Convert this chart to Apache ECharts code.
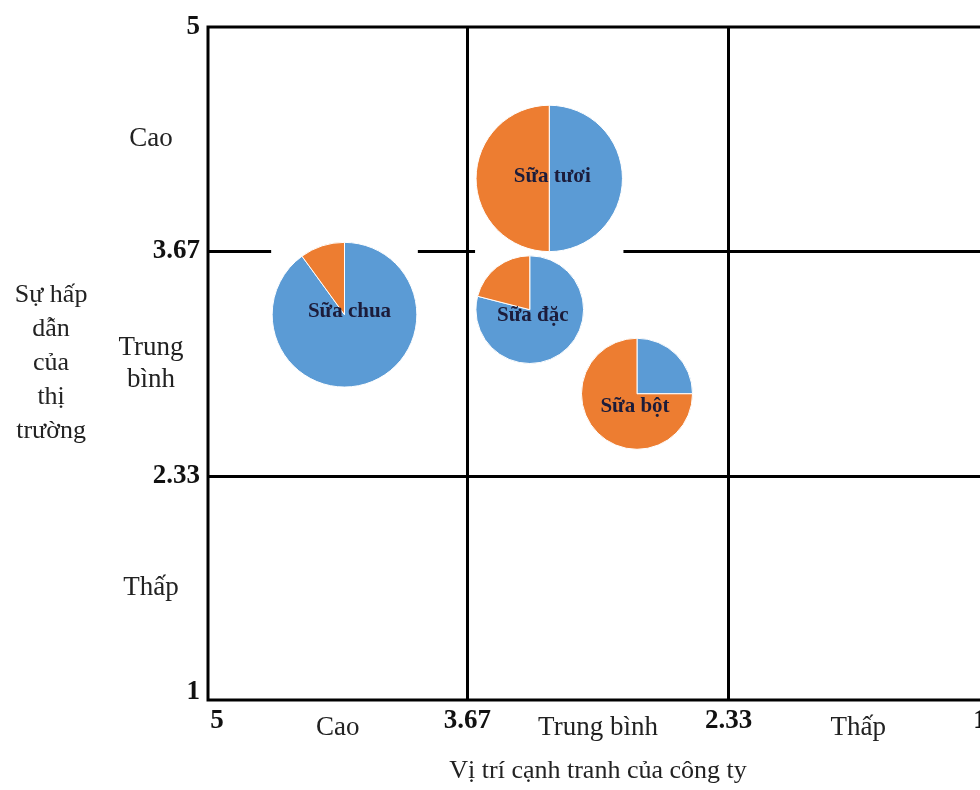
<!DOCTYPE html>
<html>
<head>
<meta charset="utf-8">
<script src="https://cdn.jsdelivr.net/npm/echarts@6/dist/echarts.min.js"></script>
<style>
  html, body { margin: 0; padding: 0; background: #fff; }
  #chart { width: 980px; height: 790px; }
</style>
</head>
<body>
<div id="chart"></div>
<script>
// Products placed on the attractiveness / competitive-position matrix
var products = ['Sữa chua', 'Sữa tươi', 'Sữa đặc', 'Sữa bột'];
// Competitive position of the company (x axis, 5 = strong ... 1 = weak)
var competitivePosition = [4.30, 3.25, 3.35, 2.80];
// Market attractiveness (y axis)
var marketAttractiveness = [3.29, 4.10, 3.32, 2.82];
// Bubble radius, expressed in attractiveness-axis units
var bubbleSize = [0.43, 0.435, 0.32, 0.33];
// Split of each pie (%): blue part, orange part
var blueShare = [90, 50, 79, 25];
var orangeShare = [10, 50, 21, 75];

// Zone boundaries of the 3x3 matrix
var zoneBounds = [3.67, 2.33];
// Axis tick positions and their texts
var tickValues = [5, 4.335, 3.67, 3, 2.33, 1.665, 1];
var xTickLabels = ['5', 'Cao', '3.67', 'Trung bình', '2.33', 'Thấp', '1'];
var yTickLabels = ['5', 'Cao', '3.67', 'Trung\nbình', '2.33', 'Thấp', '1'];
var xAxisTitle = 'Vị trí cạnh tranh của công ty';
var yAxisTitle = ['Sự hấp', 'dẫn', 'của', 'thị', 'trường'];

// ---- styling ----
var FONT = "'Liberation Serif', 'Times New Roman', serif";
var BLUE = '#5B9BD5';
var ORANGE = '#ED7D31';
var labelNudge = {
  'Sữa chua': [5, -3],
  'Sữa tươi': [3, -2],
  'Sữa đặc': [3, 6],
  'Sữa bột': [-2, 13]
};

function tickText(labels, v) {
  for (var i = 0; i < tickValues.length; i++) {
    if (Math.abs(tickValues[i] - v) < 1e-6) return labels[i];
  }
  return '';
}

function richTick(labels, axis) {
  return function (v) {
    var t = tickText(labels, v);
    if (/^[0-9.]+$/.test(t)) {
      var key = 'n';
      if (axis === 'x' && t === '5') key = 'nFirst';
      if (axis === 'x' && t === '1') key = 'nLast';
      if (axis === 'y' && t === '1') key = 'nLow';
      return '{' + key + '|' + t + '}';
    }
    return t.split('\n').map(function (s) { return '{w|' + s + '}'; }).join('\n');
  };
}

var numStyle = { fontFamily: FONT, fontWeight: 'bold', fontSize: 27, color: '#111' };
var xRich = {
  n: numStyle,
  nFirst: Object.assign({}, numStyle, { padding: [0, 0, 0, 18] }),
  nLast: Object.assign({}, numStyle, { padding: [0, 16, 0, 0] }),
  w: { fontFamily: FONT, fontSize: 27, color: '#222', padding: [6, 0, 0, 0] }
};
var yRich = {
  n: numStyle,
  nLow: Object.assign({}, numStyle, { padding: [0, 0, 16, 0] }),
  w: { fontFamily: FONT, fontSize: 27, color: '#222', width: 98, align: 'center', lineHeight: 32 }
};

var pieData = products.map(function (p, i) {
  return [competitivePosition[i], marketAttractiveness[i], bubbleSize[i], blueShare[i], orangeShare[i]];
});

var chart = echarts.init(document.getElementById('chart'), null, { renderer: 'canvas' });

chart.setOption({
  animation: false,
  backgroundColor: '#fff',
  grid: {
    left: 208, top: 27, width: 780, height: 673,
    outerBoundsMode: 'none', containLabel: false,
    show: true, borderColor: '#000', borderWidth: 3, backgroundColor: 'transparent'
  },
  xAxis: {
    type: 'value', min: 1, max: 5, inverse: true,
    axisLine: { show: false }, axisTick: { show: false }, splitLine: { show: false },
    axisLabel: {
      customValues: tickValues, margin: 8,
      formatter: richTick(xTickLabels, 'x'), rich: xRich
    },
    name: xAxisTitle, nameLocation: 'middle', nameGap: 58,
    nameTextStyle: { fontFamily: FONT, fontSize: 26, color: '#222' }
  },
  yAxis: {
    type: 'value', min: 1, max: 5,
    axisLine: { show: false }, axisTick: { show: false }, splitLine: { show: false },
    axisLabel: {
      customValues: tickValues, margin: 8,
      formatter: richTick(yTickLabels, 'y'), rich: yRich
    },
    name: yAxisTitle.map(function (s) { return '{t|' + s + '}'; }).join('\n'),
    nameLocation: 'middle', nameRotate: 0, nameGap: 111,
    nameTextStyle: {
      rich: { t: { fontFamily: FONT, fontSize: 26, color: '#222', width: 90, align: 'center', lineHeight: 34 } }
    }
  },
  series: [
    {
      // zone boundary lines of the matrix
      type: 'line', data: [], z: 1, silent: true,
      markLine: {
        z: 1, silent: true, symbol: ['none', 'none'], label: { show: false },
        lineStyle: { color: '#000', width: 3, type: 'solid' },
        emphasis: { disabled: true },
        data: zoneBounds.map(function (v) { return { xAxis: v }; })
          .concat(zoneBounds.map(function (v) { return { yAxis: v }; }))
      }
    },
    {
      // one pie per product, centred on its (position, attractiveness) point
      type: 'custom', z: 3, silent: true,
      data: pieData,
      renderItem: function (params, api) {
        var i = params.dataIndex;
        var c = api.coord([api.value(0), api.value(1)]);
        var r = api.size([0, api.value(2)])[1];
        var total = api.value(3) + api.value(4);
        var start = -Math.PI / 2;
        var mid = start + 2 * Math.PI * api.value(3) / total;
        var end = start + 2 * Math.PI;
        var nudge = labelNudge[products[i]] || [0, 0];
        return {
          type: 'group',
          children: [
            { type: 'rect', shape: { x: c[0] - r - 1, y: c[1] - r - 3, width: 2 * r + 2, height: 2 * r + 6 },
              style: { fill: '#fff' } },
            { type: 'sector', shape: { cx: c[0], cy: c[1], r0: 0, r: r, startAngle: start, endAngle: mid, clockwise: true },
              style: { fill: BLUE, stroke: '#fff', lineWidth: 1 } },
            { type: 'sector', shape: { cx: c[0], cy: c[1], r0: 0, r: r, startAngle: mid, endAngle: end, clockwise: true },
              style: { fill: ORANGE, stroke: '#fff', lineWidth: 1 } },
            { type: 'text', x: c[0] + nudge[0], y: c[1] + nudge[1],
              style: { text: products[i], fontFamily: FONT, fontWeight: 'bold', fontSize: 21,
                       fill: '#1c1c3a', align: 'center', verticalAlign: 'middle' } }
          ]
        };
      }
    }
  ]
});
</script>
</body>
</html>
